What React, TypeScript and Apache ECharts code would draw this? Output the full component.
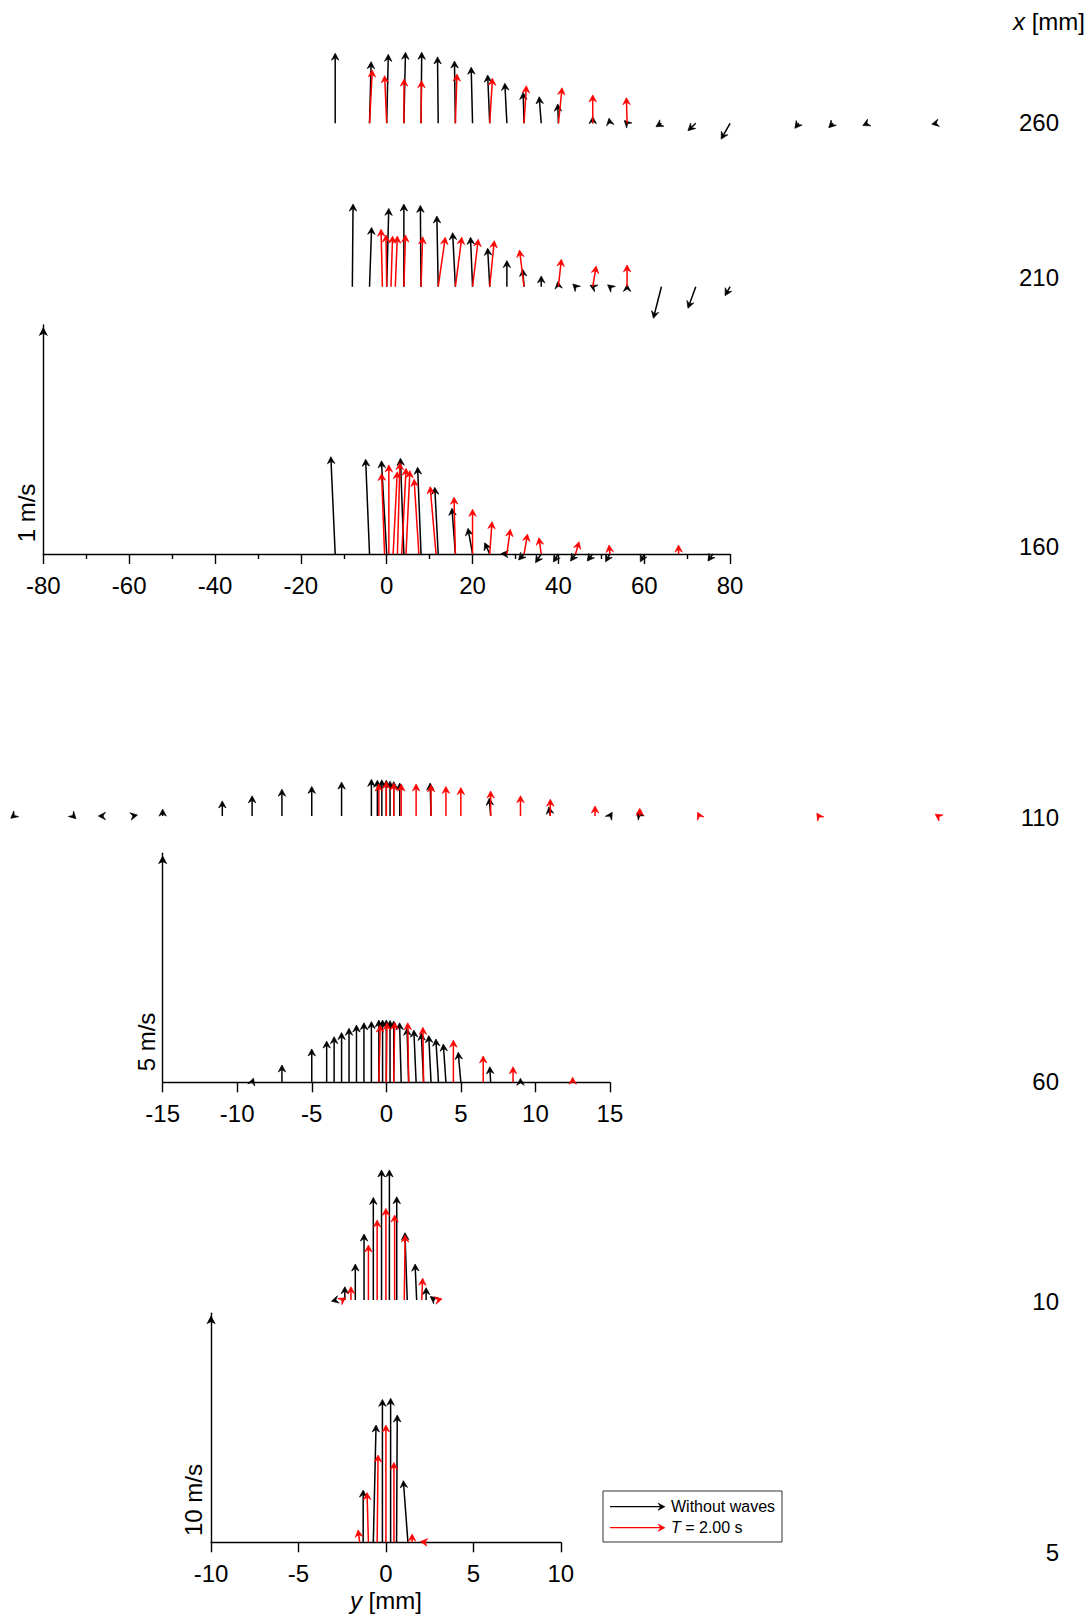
import React, { useEffect, useRef } from 'react';
import * as echarts from 'echarts';

// ---------- DATA ----------
// Each arrow: [y (mm), streamwise velocity (m/s), cross-stream velocity (m/s)]
const rowLabels = ['260', '210', '160', '110', '60', '10', '5'];
const scaleLabels = ['1 m/s', '5 m/s', '10 m/s'];
const seriesNames = ['Without waves', 'T = 2.00 s'];

const row260Without = [
  [-12, 0.306, 0], [-4, 0.269, 0.007], [0, 0.301, 0.007], [4, 0.31, 0.007], [8, 0.31, 0.003],
  [12, 0.29, -0.003], [16, 0.272, -0.004], [20, 0.245, -0.006], [24, 0.211, -0.009], [28, 0.175, -0.009],
  [32, 0.135, -0.004], [36, 0.116, -0.009], [40, 0.084, -0.003], [48, 0.029, 0], [52, 0.022, -0.004],
  [56, 0.012, -0.012], [64, -0.015, -0.024], [72, -0.032, -0.034], [80, -0.069, -0.039],
  [96, -0.022, -0.017], [104, -0.019, -0.019], [112, -0.01, -0.02], [128, -0.004, -0.019],
];
const row260Waves = [
  [-4, 0.233, 0.012], [0, 0.208, -0.009], [4, 0.193, 0.001], [8, 0.186, 0.002], [16, 0.215, 0.007],
  [24, 0.197, 0.012], [32, 0.164, 0.01], [40, 0.155, 0.016], [48, 0.124, 0], [56, 0.112, -0.003],
];
const row210Without = [
  [-8, 0.361, 0.003], [-4, 0.259, 0.009], [0, 0.342, 0.009], [4, 0.361, 0], [8, 0.355, -0.003],
  [12, 0.309, -0.006], [16, 0.236, -0.012], [20, 0.216, -0.009], [24, 0.168, -0.009], [28, 0.114, 0],
  [32, 0.076, -0.006], [36, 0.047, 0], [40, 0.022, -0.003], [44, 0.012, -0.012], [48, 0.006, -0.012],
  [52, 0.008, -0.01], [56, 0.01, 0], [64, -0.138, -0.035], [72, -0.094, -0.034], [80, -0.039, -0.022],
];
const row210Waves = [
  [-1, 0.251, -0.006], [0, 0.226, -0.003], [1, 0.221, 0.007], [2, 0.221, 0.009], [4, 0.226, 0.007],
  [8, 0.218, 0.007], [12, 0.216, 0.031], [16, 0.216, 0.028], [20, 0.207, 0.025], [24, 0.201, 0.02],
  [32, 0.16, -0.02], [40, 0.12, 0.013], [48, 0.09, 0.015], [56, 0.095, 0],
];
const row160Without = [
  [-12, 0.425, -0.019], [-4, 0.414, -0.017], [0, 0.407, -0.023], [4, 0.418, -0.015], [8, 0.379, -0.015],
  [12, 0.291, -0.015], [16, 0.2, -0.015], [20, 0.112, -0.02], [24, 0.049, -0.022], [28, 0.002, -0.025],
  [32, -0.026, -0.024], [36, -0.038, -0.025], [40, -0.035, -0.022], [44, -0.031, -0.022],
  [48, -0.031, -0.024], [52, -0.034, -0.019], [60, -0.034, -0.017], [76, -0.031, -0.022],
];
const row160Waves = [
  [-0.5, 0.352, -0.013], [0.5, 0.389, 0], [1.5, 0.359, 0.018], [2.5, 0.399, 0.011], [3.5, 0.374, 0.019],
  [4.5, 0.364, 0.017], [7.5, 0.326, -0.021], [11.5, 0.294, -0.026], [16, 0.248, -0.006], [20, 0.195, 0],
  [24, 0.141, 0.01], [28, 0.108, 0.015], [32, 0.087, 0.015], [36, 0.071, -0.01], [44, 0.054, 0.015],
  [52, 0.039, -0.004], [68, 0.039, 0],
];
const row110Without = [
  [-25, -0.05, -0.06], [-21, -0.06, 0.06], [-19, 0.0, -0.1], [-17, 0.02, 0.1], [-15, 0.15, 0],
  [-11, 0.33, 0], [-9, 0.44, 0], [-7, 0.585, 0], [-5, 0.646, 0], [-3, 0.74, 0], [-1, 0.8, 0],
  [-0.6, 0.78, 0], [-0.3, 0.79, 0], [0, 0.78, 0], [0.25, 0.76, 0], [0.5, 0.75, 0], [0.9, 0.72, 0],
  [3, 0.72, -0.02], [7, 0.39, -0.03], [11, 0.2, -0.03], [15, 0.08, 0.05], [17, 0.08, -0.06],
];
const row110Waves = [
  [-0.5, 0.7, 0], [0, 0.755, 0], [0.5, 0.72, 0], [1, 0.7, 0], [2, 0.7, 0], [3, 0.68, 0], [4, 0.646, 0],
  [5, 0.62, 0], [7, 0.546, 0], [9, 0.443, 0], [11, 0.367, 0], [14, 0.218, 0], [17, 0.168, 0],
  [21, 0.08, -0.04], [29, 0.06, -0.04], [37, 0.04, -0.06],
];
const row60Without = [
  [-9, 0.09, 0.03], [-7, 0.378, 0], [-5, 0.728, 0], [-4, 0.9, 0], [-3.5, 0.997, 0], [-3, 1.085, 0],
  [-2.5, 1.18, 0], [-2, 1.25, 0], [-1.5, 1.3, 0], [-1, 1.325, 0], [-0.5, 1.36, 0], [-0.25, 1.36, 0],
  [0, 1.36, 0], [0.25, 1.35, 0], [0.5, 1.34, 0], [1, 1.3, -0.036], [1.5, 1.18, -0.036], [2, 1.14, -0.05],
  [2.5, 1.07, -0.05], [3, 1.02, -0.05], [3.5, 0.945, -0.058], [4, 0.836, -0.058], [5, 0.655, -0.058],
  [7, 0.34, -0.02], [9, 0.087, 0],
];
const row60Waves = [
  [-0.5, 1.25, 0.03], [0, 1.3, 0.015], [0.5, 1.31, 0.02], [1.5, 1.3, -0.02], [2.5, 1.2, -0.015],
  [4.5, 0.92, 0], [6.5, 0.575, 0], [8.5, 0.34, 0], [12.5, 0.11, 0],
];
const row10Without = [
  [-2.85, -0.05, -0.2], [-2.35, 0.58, 0], [-1.75, 1.57, 0], [-1.25, 2.88, 0], [-0.72, 4.48, 0],
  [-0.25, 5.68, 0], [0.2, 5.68, 0], [0.62, 4.51, 0], [1.22, 2.94, -0.1], [1.76, 1.57, -0.07],
  [2.3, 0.54, 0], [2.8, 0.15, -0.2],
];
const row10Waves = [
  [-2.5, 0.1, 0.15], [-2.0, 0.58, 0], [-1.0, 2.4, 0], [-0.5, 3.49, 0], [0, 4.0, 0], [0.5, 3.71, 0],
  [1.05, 2.84, 0.04], [2.05, 0.95, 0.04], [2.95, 0.05, 0.2],
];
const row5Without = [
  [-1.3, 2.28, 0], [-0.72, 5.12, 0.12], [-0.2, 6.24, 0], [0.27, 6.29, 0], [0.61, 5.56, 0.03],
  [1.26, 2.69, -0.2],
];
const row5Waves = [
  [-1.5, 0.54, -0.07], [-1, 2.17, -0.06], [-0.5, 3.81, 0.04], [0, 5.12, 0], [0.46, 3.49, 0],
  [1.5, 0.36, 0], [2.3, 0.03, -0.25],
];

// ---------- LAYOUT ----------
const FONT = 'Liberation Sans, Arial, Helvetica, sans-serif';
const FS = 24;
const COLORS = ['#000000', '#ff0000'];
const UNIT_PX = 229; // length of the scale arrow

const rows = [
  { data: [row260Without, row260Waves], baseline: 123.3, zero: 386.7, mmPx: 4.2925, xMin: -20, xMax: 130, unit: 1, visible: false, labelY: 122 },
  { data: [row210Without, row210Waves], baseline: 286.7, zero: 386.7, mmPx: 4.2925, xMin: -20, xMax: 130, unit: 1, visible: false, labelY: 277 },
  { data: [row160Without, row160Waves], baseline: 554, zero: 386.7, mmPx: 4.2925, xMin: -80, xMax: 80, unit: 1, visible: true, interval: 20, minor: true, labelY: 546, scale: 0, nameX: 26.5, nameY: 513 },
  { data: [row110Without, row110Waves], baseline: 816, zero: 386.3, mmPx: 14.91, xMin: -25.5, xMax: 38, unit: 5, visible: false, labelY: 817 },
  { data: [row60Without, row60Waves], baseline: 1082.3, zero: 386.3, mmPx: 14.91, xMin: -15, xMax: 15, unit: 5, visible: true, interval: 5, labelY: 1081, scale: 1, nameX: 146.5, nameY: 1042 },
  { data: [row10Without, row10Waves], baseline: 1300, zero: 385.9, mmPx: 17.485, xMin: -10, xMax: 10, unit: 10, visible: false, labelY: 1301 },
  { data: [row5Without, row5Waves], baseline: 1542.3, zero: 385.9, mmPx: 17.485, xMin: -10, xMax: 10, unit: 10, visible: true, interval: 5, labelY: 1552, scale: 2, nameX: 193.5, nameY: 1500, axisTitle: true },
];

function arrowHead(tx: number, ty: number, ux: number, uy: number) {
  const L = 7, W = 3.7, N = 4.5;
  const nx = -uy, ny = ux;
  return {
    pts: [
      [tx, ty],
      [tx - ux * L + nx * W, ty - uy * L + ny * W],
      [tx - ux * N, ty - uy * N],
      [tx - ux * L - nx * W, ty - uy * L - ny * W],
    ],
    notch: [tx - ux * N, ty - uy * N],
  };
}

function makeRenderItem(color: string) {
  return (params: any, api: any) => {
    const y = api.value(0);
    const v = api.value(1);
    const u = api.value(2);
    const b = api.coord([y, 0]);
    const t = api.coord([y, v]);
    const unitPx = b[1] - api.coord([y, 1])[1];
    const tx = b[0] + u * unitPx;
    const ty = t[1];
    const dx = tx - b[0];
    const dy = ty - b[1];
    const len = Math.hypot(dx, dy) || 1;
    const ux = dx / len;
    const uy = dy / len;
    const head = arrowHead(tx, ty, ux, uy);
    const children: any[] = [];
    if (len > 4.5) {
      children.push({
        type: 'line',
        shape: { x1: b[0], y1: b[1], x2: head.notch[0], y2: head.notch[1] },
        style: { stroke: color, lineWidth: 1.5 },
      });
    }
    children.push({
      type: 'polygon',
      shape: { points: head.pts },
      style: { fill: color, stroke: color, lineWidth: 0.7, lineJoin: 'miter' },
    });
    return { type: 'group', children };
  };
}

function buildOption() {
  const grid: any[] = [];
  const xAxis: any[] = [];
  const yAxis: any[] = [];
  const series: any[] = [];
  const graphic: any[] = [];

  rows.forEach((r, i) => {
    const h = r.visible ? UNIT_PX : 100;
    grid.push({
      left: r.zero + r.xMin * r.mmPx,
      width: (r.xMax - r.xMin) * r.mmPx,
      top: r.baseline - h,
      height: h,
      containLabel: false,
      outerBoundsMode: 'none',
    });
    const lineStyle = { color: '#000', width: 1.4 };
    xAxis.push({
      type: 'value',
      gridIndex: i,
      min: r.xMin,
      max: r.xMax,
      interval: r.interval,
      show: r.visible,
      axisLine: { show: true, onZero: false, lineStyle },
      axisTick: { show: true, length: 10, lineStyle },
      minorTick: { show: !!r.minor, splitNumber: 2, length: 5, lineStyle },
      axisLabel: { show: true, fontSize: FS, fontFamily: FONT, color: '#000', margin: 19 },
      splitLine: { show: false },
      minorSplitLine: { show: false },
      name: r.axisTitle ? '{i|y}{n| [mm]}' : '',
      nameLocation: 'middle',
      nameGap: 46,
      nameTextStyle: {
        rich: {
          i: { fontSize: FS, fontFamily: FONT, fontStyle: 'italic', color: '#000' },
          n: { fontSize: FS, fontFamily: FONT, color: '#000' },
        },
      },
    });
    yAxis.push({
      type: 'value',
      gridIndex: i,
      min: 0,
      max: (r.unit * h) / UNIT_PX,
      show: r.visible,
      axisLine: {
        show: true,
        onZero: false,
        lineStyle,
        symbol: ['none', 'arrow'],
        symbolSize: [7, 9],
        symbolOffset: [0, -2],
      },
      axisTick: { show: false },
      axisLabel: { show: false },
      splitLine: { show: false },
    });
    r.data.forEach((d, k) => {
      series.push({
        type: 'custom',
        name: seriesNames[k],
        coordinateSystem: 'cartesian2d',
        xAxisIndex: i,
        yAxisIndex: i,
        clip: false,
        silent: true,
        encode: { x: 0, y: 1 },
        data: d,
        renderItem: makeRenderItem(COLORS[k]),
        z: 2 + k,
      });
    });
    graphic.push({
      type: 'text',
      x: 1059,
      y: r.labelY,
      style: {
        text: rowLabels[i],
        fontSize: FS,
        fontFamily: FONT,
        fill: '#000',
        align: 'right',
        textAlign: 'right',
        verticalAlign: 'middle',
        textVerticalAlign: 'middle',
      },
    });
    if (r.visible && r.scale !== undefined) {
      graphic.push({
        type: 'text',
        x: r.nameX,
        y: r.nameY,
        rotation: Math.PI / 2,
        style: {
          text: scaleLabels[r.scale],
          fontSize: FS,
          fontFamily: FONT,
          fill: '#000',
          align: 'center',
          textAlign: 'center',
          verticalAlign: 'middle',
          textVerticalAlign: 'middle',
        },
      });
    }
  });

  // column title
  graphic.push({
    type: 'text',
    x: 1085,
    y: 21.3,
    style: {
      text: '{i|x}{n| [mm]}',
      align: 'right',
      textAlign: 'right',
      verticalAlign: 'middle',
      textVerticalAlign: 'middle',
      fontSize: FS,
      fontFamily: FONT,
      rich: {
        i: { fontSize: FS, fontFamily: FONT, fontStyle: 'italic', fill: '#000' },
        n: { fontSize: FS, fontFamily: FONT, fill: '#000' },
      },
    },
  });

  // legend box
  const lx = 603, ly = 1491, lw = 179, lh = 51;
  graphic.push({
    type: 'rect',
    shape: { x: lx, y: ly, width: lw, height: lh },
    style: { fill: '#fff', stroke: '#333', lineWidth: 1 },
    z: 10,
  });
  const legendTexts = ['{n|Without waves}', '{i|T}{n| = 2.00 s}'];
  legendTexts.forEach((txt, k) => {
    const yy = ly + 15.7 + k * 21;
    const head = arrowHead(665, yy, 1, 0);
    graphic.push({
      type: 'line',
      shape: { x1: 610, y1: yy, x2: head.notch[0], y2: yy },
      style: { stroke: COLORS[k], lineWidth: 1.2 },
      z: 11,
    });
    graphic.push({
      type: 'polygon',
      shape: { points: head.pts },
      style: { fill: COLORS[k], stroke: COLORS[k], lineWidth: 0.5 },
      z: 11,
    });
    graphic.push({
      type: 'text',
      x: 671,
      y: yy,
      z: 11,
      style: {
        text: txt,
        align: 'left',
        textAlign: 'left',
        verticalAlign: 'middle',
        textVerticalAlign: 'middle',
        fontSize: 16,
        fontFamily: FONT,
        rich: {
          i: { fontSize: 16, fontFamily: FONT, fontStyle: 'italic', fill: '#000' },
          n: { fontSize: 16, fontFamily: FONT, fill: '#000' },
        },
      },
    });
  });

  return {
    animation: false,
    backgroundColor: '#ffffff',
    grid,
    xAxis,
    yAxis,
    series,
    graphic,
  };
}

export default function App() {
  const ref = useRef<HTMLDivElement>(null);
  useEffect(() => {
    if (!ref.current) return;
    const chart = echarts.init(ref.current, null, { renderer: 'svg' });
    chart.setOption(buildOption() as any);
    return () => chart.dispose();
  }, []);
  return (
    <div
      ref={ref}
      style={{ position: 'absolute', left: 0, top: 0, width: 1092, height: 1618, background: '#fff' }}
    />
  );
}
